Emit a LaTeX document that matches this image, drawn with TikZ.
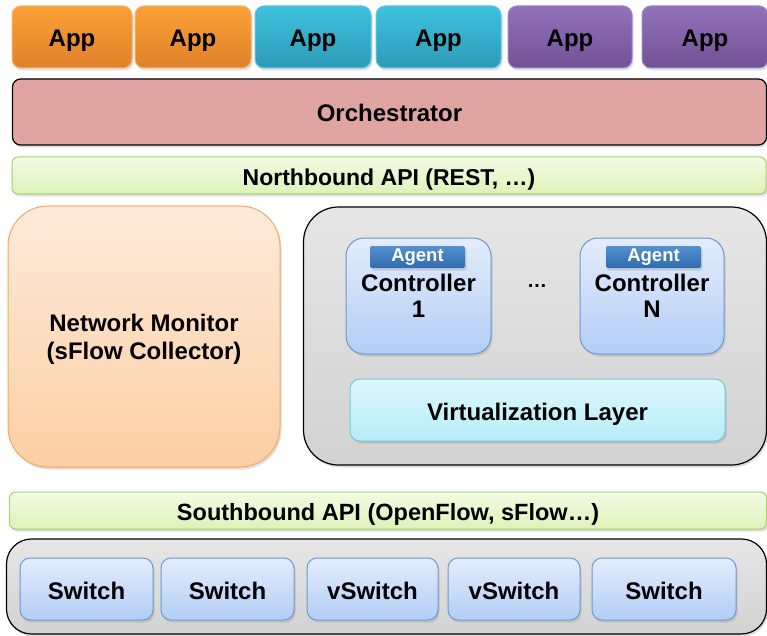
\documentclass[tikz,border=0pt]{standalone}
\usepackage{fontspec}
\setmainfont{Liberation Sans}
\usetikzlibrary{shadows}
\definecolor{orTop}{HTML}{FBA136}
\definecolor{orBot}{HTML}{DF812A}
\definecolor{orLine}{HTML}{F5B36E}
\definecolor{tlTop}{HTML}{3EC1DE}
\definecolor{tlBot}{HTML}{2D9BB7}
\definecolor{tlLine}{HTML}{5CC8E0}
\definecolor{puTop}{HTML}{9272BA}
\definecolor{puBot}{HTML}{725196}
\definecolor{puLine}{HTML}{9E84C2}
\definecolor{orchFill}{HTML}{E0A5A3}
\definecolor{grTop}{HTML}{F3FBE4}
\definecolor{grBot}{HTML}{DDF3B8}
\definecolor{grLine}{HTML}{A9CF72}
\definecolor{monTop}{HTML}{FDEADB}
\definecolor{monBot}{HTML}{FCCFA4}
\definecolor{monLine}{HTML}{F6A75A}
\definecolor{gyTop}{HTML}{E6E6E6}
\definecolor{gyBot}{HTML}{D2D2D2}
\definecolor{blTop}{HTML}{E3EDFC}
\definecolor{blBot}{HTML}{B3CDF5}
\definecolor{blLine}{HTML}{6C98D0}
\definecolor{agTop}{HTML}{5391D0}
\definecolor{agBot}{HTML}{2F6BAD}
\definecolor{cyTop}{HTML}{DEF7FB}
\definecolor{cyBot}{HTML}{B6EDF8}
\definecolor{cyLine}{HTML}{72C9DA}
\begin{document}
\begin{tikzpicture}[x=1pt,y=-1pt,
  box/.style={inner sep=0pt, align=center, text=black,
    font=\bfseries\fontsize{24}{26}\selectfont, line width=1pt},
  oneline/.style={text height=20pt, text depth=0pt},
  shad/.style={drop shadow={shadow xshift=1.5pt, shadow yshift=-2.5pt, opacity=0.25}},
  app/.style={box, oneline, shad, rounded corners=9pt, minimum height=62pt},
  orapp/.style={app, draw=orLine, top color=orTop, bottom color=orBot},
  tlapp/.style={app, draw=tlLine, top color=tlTop, bottom color=tlBot},
  puapp/.style={app, draw=puLine, top color=puTop, bottom color=puBot},
  bar/.style={box, oneline, shad, rounded corners=6pt, minimum height=37pt, draw=grLine,
    top color=grTop, bottom color=grBot, font=\bfseries\fontsize{23}{26}\selectfont},
  graybox/.style={box, shad, draw=black, line width=1.2pt, top color=gyTop, bottom color=gyBot},
  bluebox/.style={box, shad, draw=blLine, top color=blTop, bottom color=blBot},
  agent/.style={box, shad, rounded corners=2pt, minimum width=95pt, minimum height=22pt,
    top color=agTop, bottom color=agBot, text=white, font=\bfseries\fontsize{18.5}{20}\selectfont},
  switchbox/.style={bluebox, oneline, rounded corners=10pt, minimum height=62pt}
]
\useasboundingbox (0,0) rectangle (767,636);
% apps
\node[orapp, minimum width=120pt] (app1) at (72,37) {App};
\node[orapp, minimum width=116pt] (app2) at (193,37) {App};
\node[tlapp, minimum width=116pt] (app3) at (313,37) {App};
\node[tlapp, minimum width=125pt] (app4) at (438.5,37) {App};
\node[puapp, minimum width=124pt] (app5) at (570,37) {App};
\node[puapp, minimum width=126pt] (app6) at (705,37) {App};
% orchestrator
\node[box, oneline, shad, draw=black, line width=1.2pt, fill=orchFill, rounded corners=8pt,
  minimum width=754pt, minimum height=66pt] (orch) at (389.5,112) {Orchestrator};
% northbound
\node[bar, minimum width=754pt] (nb) at (389,175.5) {Northbound API (REST, \dots)};
% network monitor
\node[box, shad, draw=monLine, top color=monTop, bottom color=monBot, rounded corners=40pt,
  minimum width=272pt, minimum height=261pt, text depth=0pt,
  font=\bfseries\fontsize{24}{28}\selectfont] (mon) at (144,336.5)
  {Network Monitor\\(sFlow Collector)};
% controller area
\node[graybox, rounded corners=35pt, minimum width=463pt, minimum height=258pt] (ctrlarea) at (535,336) {};
\node[bluebox, rounded corners=18pt, minimum width=145pt, minimum height=116pt] (c1) at (418.5,296) {Controller\\1};
\node[bluebox, rounded corners=18pt, minimum width=144pt, minimum height=116pt] (cn) at (652,296) {Controller\\N};
\node[agent] (a1) at (417.5,257) {Agent};
\node[agent] (an) at (653.5,257) {Agent};
\node[box, font=\bfseries\fontsize{20}{22}\selectfont] (dots) at (537,286) {\dots};
\node[box, oneline, shad, draw=cyLine, top color=cyTop, bottom color=cyBot, rounded corners=10pt,
  minimum width=375pt, minimum height=62pt] (virt) at (537.5,410) {Virtualization Layer};
% southbound
\node[bar, minimum width=757pt, font=\bfseries\fontsize{23.5}{26}\selectfont] (sb) at (388,510.5) {Southbound API (OpenFlow, sFlow\dots)};
% switches
\node[graybox, rounded corners=25pt, minimum width=760pt, minimum height=95pt] (swarea) at (386.5,586.5) {};
\node[switchbox, minimum width=133pt] (s1) at (86.5,589) {Switch};
\node[switchbox, minimum width=133pt] (s2) at (227.5,589) {Switch};
\node[switchbox, minimum width=131pt] (s3) at (372.5,589) {vSwitch};
\node[switchbox, minimum width=132pt] (s4) at (514,589) {vSwitch};
\node[switchbox, minimum width=144pt] (s5) at (664,589) {Switch};
\end{tikzpicture}
\end{document}
